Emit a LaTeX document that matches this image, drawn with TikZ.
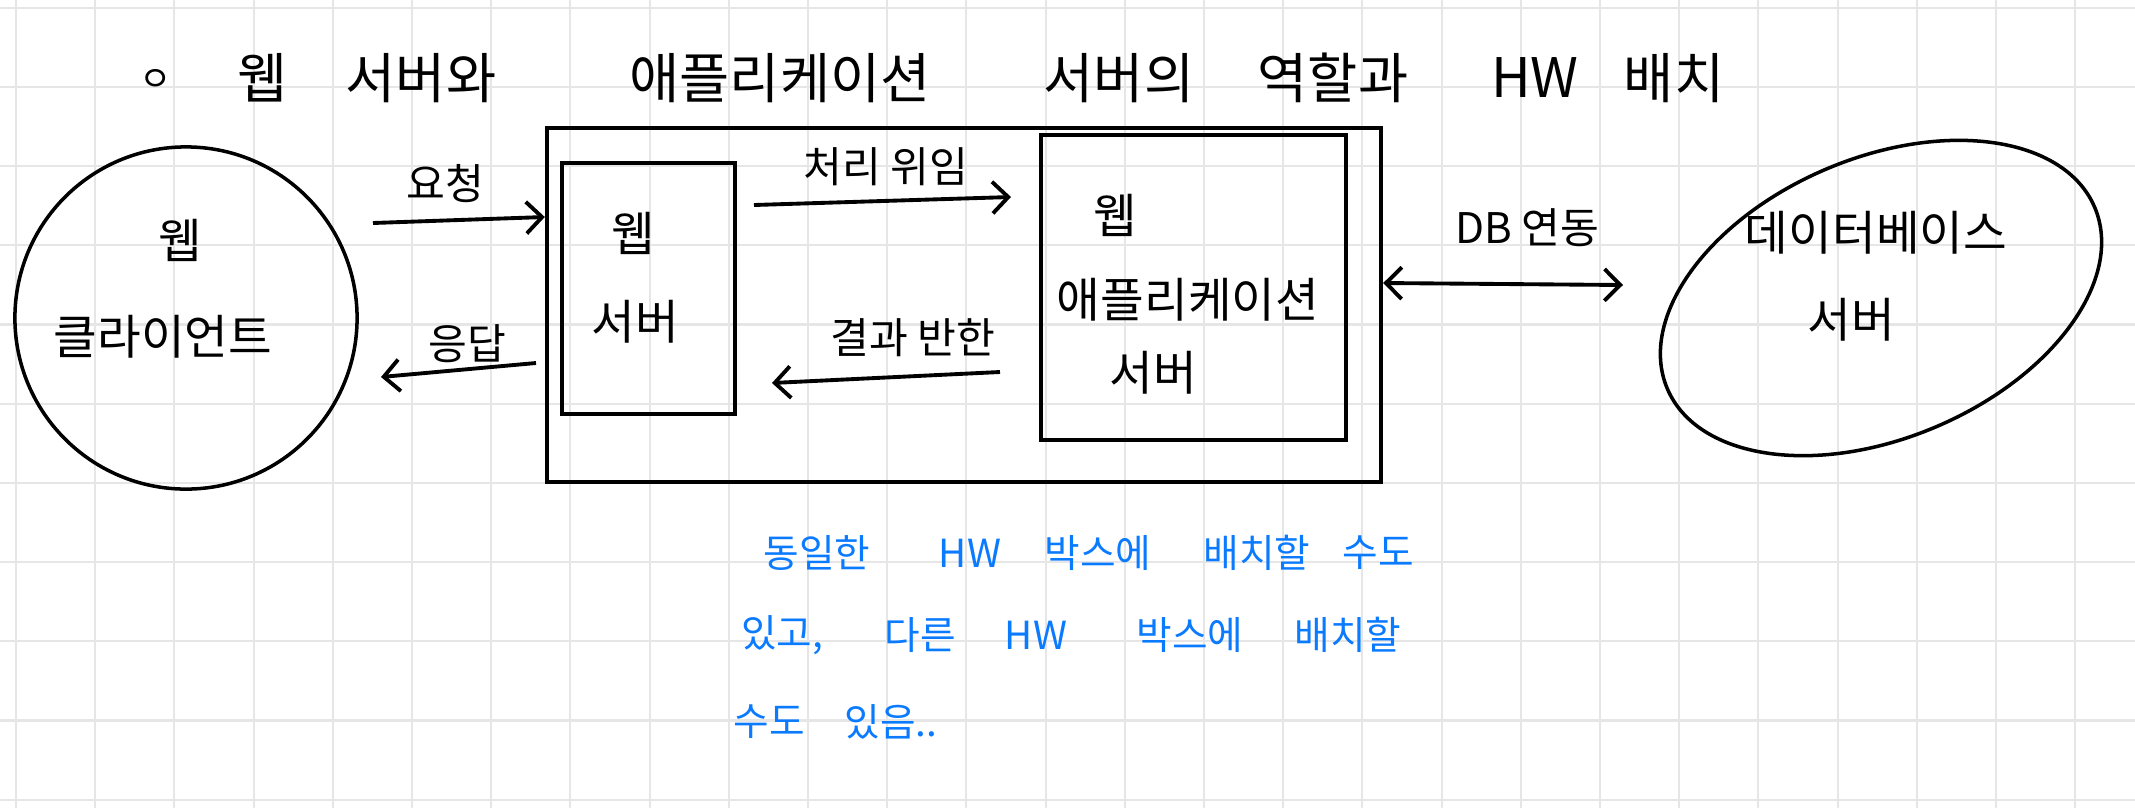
\documentclass[tikz,border=0pt]{standalone}
\usepackage{fontspec}
\setmainfont{Noto Sans CJK KR}
\usetikzlibrary{arrows.meta, shapes.geometric}

\definecolor{gridGrey}{HTML}{E6E6E6}
\definecolor{inkBlue}{HTML}{0A7AFF}

\begin{document}
\begin{tikzpicture}[x=0.01cm, y=-0.01cm,
    >={Straight Barb[length=4.5pt, width=9pt]},
    gridline/.style={draw=gridGrey, line width=0.6pt},
    box/.style={draw, line width=1.1pt, inner sep=0pt},
    arr/.style={line width=1.1pt},
    big/.style={font=\fontsize{15.5}{18}\selectfont},
    txt/.style={font=\fontsize{13.5}{16}\selectfont},
    lbl/.style={font=\fontsize{12}{14}\selectfont},
    note/.style={font=\fontsize{11}{13}\selectfont, text=inkBlue}]

    % Paper and grid
    \fill[white] (0,0) rectangle (2135,808);
    \useasboundingbox (0,0) rectangle (2135,808);
    \foreach \i in {0,...,26}
        \draw[gridline] (16+79.2*\i,0) -- (16+79.2*\i,808);
    \foreach \j in {0,...,10}
        \draw[gridline] (0,7.7+79.2*\j) -- (2135,7.7+79.2*\j);

    % Title
    \node[font=\fontsize{10}{12}\selectfont] (bullet) at (156,80) {ㅇ};
    \foreach \w/\x [count=\k] in {웹/263, 서버와/421, 애플리케이션/780, 서버의/1119, 역할과/1333, HW/1535, 배치/1674}
        \node[big] (title\k) at (\x,78) {\w};

    % Web client
    \node[box, circle, minimum size=3.42cm, line width=1pt] (client) at (186,318) {};
    \node[txt] (clientA) at (180,240) {웹};
    \node[txt] (clientB) at (163,337) {클라이언트};

    % One HW box with web server and WAS
    \node[box, minimum width=8.34cm, minimum height=3.54cm] (hw) at (964,305) {};
    \node[box, minimum width=1.73cm, minimum height=2.51cm] (web) at (648.5,288.5) {};
    \node[box, minimum width=3.05cm, minimum height=3.05cm] (was) at (1193.5,287.5) {};
    \node[txt] (webA) at (633,233) {웹};
    \node[txt] (webB) at (635,322) {서버};
    \node[txt] (wasA) at (1115,215) {웹};
    \node[txt] (wasB) at (1188,300) {애플리케이션};
    \node[txt] (wasC) at (1153,373) {서버};

    % Database server
    \node[box, ellipse, minimum width=4.64cm, minimum height=2.8cm, rotate=23, line width=1pt] (db) at (1881,298) {};
    \node[txt] (dbA) at (1876,233) {데이터베이스};
    \node[txt] (dbB) at (1851,320) {서버};

    % Arrows
    \coordinate (reqS) at (373,223);
    \coordinate (resS) at (536,363);
    \coordinate (resE) at (381,377);
    \coordinate (delS) at (754,205);
    \coordinate (delE) at (1011,197);
    \coordinate (retS) at (1000,372);
    \coordinate (retE) at (772,383);
    \coordinate (dbE) at (1623,285);
    \draw[arr, ->] (reqS) -- (hw.west |- 0,217);
    \draw[arr, ->] (resS) -- (resE);
    \draw[arr, ->] (delS) -- (delE);
    \draw[arr, ->] (retS) -- (retE);
    \draw[arr, <->] (hw.east |- 0,283) -- (dbE);
    \node[lbl] (reqL) at (445,184) {요청};
    \node[lbl] (resL) at (467,344) {응답};
    \node[lbl] (delL) at (886,167) {처리 위임};
    \node[lbl] (retL) at (913,338) {결과 반한};
    \node[lbl] (dbL) at (1527,228) {DB 연동};

    % Note
    \foreach \w/\x [count=\k] in {동일한/817, HW/970, 박스에/1098, 배치할/1257, 수도/1378}
        \node[note] (noteA\k) at (\x,553) {\w};
    \foreach \w/\x [count=\k] in {{있고,}/782, 다른/920, HW/1036, 박스에/1190, 배치할/1348}
        \node[note] (noteB\k) at (\x,635) {\w};
    \foreach \w/\x [count=\k] in {수도/769, 있음../891}
        \node[note] (noteC\k) at (\x,722) {\w};

\end{tikzpicture}
\end{document}
